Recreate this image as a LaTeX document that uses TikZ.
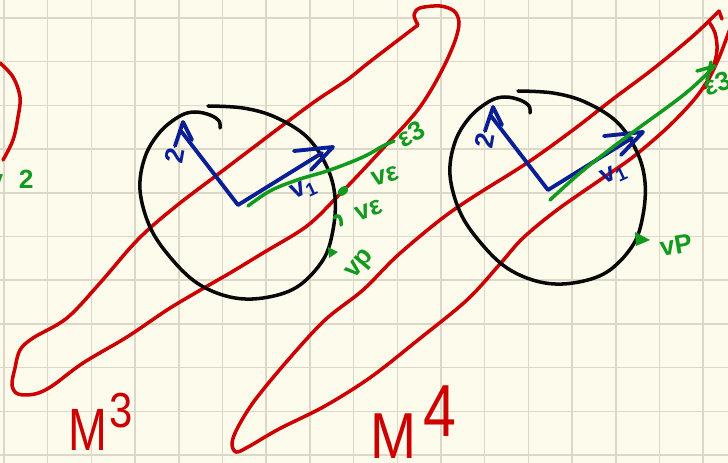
\documentclass[tikz,border=0pt]{standalone}
\usepackage{fontspec}
\setmainfont{Liberation Sans}
\definecolor{paper}{HTML}{FDFBEC}
\definecolor{gridc}{HTML}{DCD8C8}
\definecolor{penred}{HTML}{CC0000}
\definecolor{penblue}{HTML}{0A1E96}
\definecolor{pengreen}{HTML}{129A1E}
\definecolor{penblack}{HTML}{080808}
\tikzset{
  pen/.style={line width=2pt, line cap=round, line join=round},
  redpen/.style={pen, draw=penred},
  blackpen/.style={pen, draw=penblack},
  bluepen/.style={pen, draw=penblue, line width=2.2pt},
  greenpen/.style={pen, draw=pengreen},
  gridline/.style={draw=gridc, line width=0.8pt},
  glabel/.style={text=pengreen, font=\fontsize{15}{15}\selectfont\bfseries, inner sep=0pt},
  blabel/.style={text=penblue, font=\fontsize{15}{15}\selectfont\bfseries, inner sep=0pt},
  rlabel/.style={text=penred, inner sep=0pt, anchor=base west},
}
\begin{document}
\begin{tikzpicture}[x={(0.02cm,0)}, y={(0,-0.02cm)}]
\useasboundingbox (0,0) rectangle (728,463);
\fill[paper] (0,0) rectangle (728,463);
\clip (0,0) rectangle (728,463);
% grid
\foreach \i in {0,...,16} \draw[gridline] ({4+43.7*\i},0) -- ({4+43.7*\i},463);
\foreach \j in {0,...,10} \draw[gridline] (0,{18+43.7*\j}) -- (728,{18+43.7*\j});

% partial loop at top left
\draw[redpen] plot[smooth, tension=0.6] coordinates {(0,63) (13,77) (20,97) (18,117) (13,140) (3,160)};
\node[glabel, anchor=east] (vtwo) at (34,179) {v\kern9pt2};

% M^3 loop
\draw[redpen] plot[smooth, tension=0.55] coordinates {(418,25) (414,15) (420,8) (440,6) (454,11) (459,22) (456,38) (447,60) (434,85) (420,107) (405,125) (388,143) (363,170) (338,196) (307,226) (263,253) (230,273) (197,292) (167,310) (127,337) (83,363) (52,386) (35,394) (18,394) (12,385) (15,368) (20,350) (33,338) (67,318) (100,283) (130,248) (150,228) (180,203) (217,175) (250,150) (287,122) (317,100) (347,80) (367,64) (393,44) (418,25)};

% M^4 loop
\draw[redpen] (722,19) -- (719,11);
\draw[redpen] plot[smooth, tension=0.55] coordinates {(719,11) (693,36) (653,69) (613,99) (573,130) (527,163) (473,197) (440,220) (397,256) (363,290) (325,320) (288,360) (255,400) (238,427) (232,443) (236,452) (248,447) (279,429) (325,406) (371,377) (418,340) (467,300) (500,264) (523,238) (557,210) (600,180) (633,157) (667,128) (693,101) (708,80) (718,60) (724,45) (731,26)};
\draw[redpen] plot[smooth, tension=0.6] coordinates {(709,22) (715,33) (717,50) (713,68) (705,88)};

% two circles with frames
\foreach \dx/\dy/\k in {0/0/a, 310/-15/b}{
\begin{scope}[shift={(\dx,\dy)}]
\draw[blackpen] plot[smooth, tension=0.6] coordinates {(208,106) (243,108) (275,117) (307,137) (327,167) (335,197) (333,230) (323,260) (297,287) (263,298) (230,297) (197,283) (170,257) (150,227) (140,190) (145,157) (160,132) (180,116) (195,112) (210,115) (219,121) (220,128)};
\coordinate (o-\k) at (238,205);
\coordinate (t2-\k) at (181,131);
\coordinate (t1-\k) at (322,153);
\draw[bluepen] (t2-\k) -- (o-\k) -- (t1-\k);
\draw[bluepen] (175,146) -- (183,122) -- (192,140);
\draw[bluepen] (294,151) -- (333,147) -- (311,170);
\node[blabel, rotate=80] (two-\k) at (175,156) {2};
\node[blabel, rotate=25] (one-\k) at (304,190) {v\textsubscript{1}};
\end{scope}
}

% green, first circle
\coordinate (g1s) at (248,206);
\coordinate (g1e) at (394,141);
\draw[greenpen] plot[smooth, tension=0.6] coordinates {(g1s) (270,191) (297,180) (330,170) (363,157) (383,146) (g1e)};
\node[glabel, rotate=29] (e3a) at (411,134) {ε3};
\fill[pengreen, rotate around={40:(343,191)}] (343,191) ellipse [x radius=6, y radius=4];
\fill[pengreen] (328,247) -- (338,252) -- (329,258) -- cycle;
\draw[greenpen] (334,218) .. controls (338,213) and (342,217) .. (341,225);
\node[glabel, rotate=15] (ve1) at (385,176) {vε};
\node[glabel, rotate=20] (ve2) at (369,210) {vε};
\node[glabel, rotate=50] (vp1) at (361,265) {vp};

% green, second circle
\coordinate (g2s) at (550,200);
\coordinate (g2e) at (713,68);
\draw[greenpen] plot[smooth, tension=0.6] coordinates {(g2s) (580,173) (613,147) (640,127) (673,103) (693,87) (g2e)};
\draw[greenpen] (697,71) -- (715,66);
\draw[greenpen] (711,62) -- (707,80);
\node[glabel, anchor=west, rotate=20] (e3b) at (704,88) {ε3};
\fill[pengreen] (635,232) -- (650,240) -- (636,246) -- cycle;
\node[glabel, rotate=10] (vp2) at (676,245) {vP};

% manifold labels
\node[rlabel] (m3) at (68,450) {\fontsize{34}{34}\selectfont\scalebox{0.78}[1]{M}\kern1.5pt\raisebox{13pt}{\fontsize{28}{28}\selectfont\scalebox{0.85}[1]{3}}};
\node[rlabel] (m4) at (370,458) {\fontsize{37}{37}\selectfont\scalebox{0.85}[1]{M}\kern4pt\raisebox{12pt}{\fontsize{42}{42}\selectfont\scalebox{0.8}[1]{4}}};
\end{tikzpicture}
\end{document}
